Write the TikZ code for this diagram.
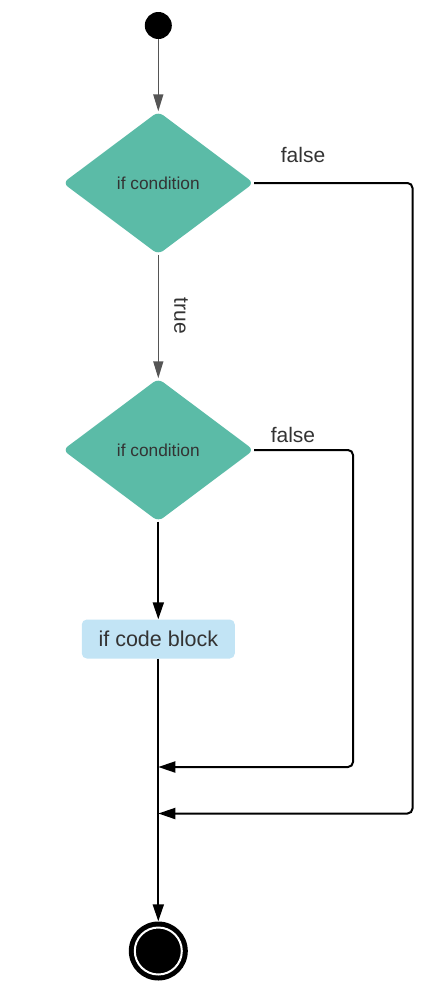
\documentclass[tikz,border=0pt]{standalone}
\usepackage{fontspec}
\setmainfont{Liberation Sans}
\usetikzlibrary{shapes.geometric,arrows.meta}
\definecolor{teal1}{HTML}{5BBBA7}
\definecolor{blue1}{HTML}{C2E4F5}
\definecolor{txt}{HTML}{333333}
\definecolor{greyarr}{HTML}{555555}
\begin{document}
\begin{tikzpicture}[x=1pt,y=-1pt,
  decision/.style={diamond,fill=teal1,rounded corners=6pt,inner sep=0pt,
    minimum width=191pt,minimum height=143pt,text=txt,font=\fontsize{17.3}{19}\selectfont},
  codeblock/.style={rectangle,fill=blue1,rounded corners=5pt,inner sep=0pt,
    minimum width=153pt,minimum height=39pt,text=txt,font=\fontsize{21.5}{24}\selectfont},
  lbl/.style={text=txt,font=\fontsize{21}{24}\selectfont,inner sep=0pt},
  flow/.style={line width=2pt,black,-{Triangle[length=17pt,width=11pt]}},
  gflow/.style={line width=1.4pt,greyarr,-{Triangle[length=17pt,width=10pt]}},
  side/.style={line width=2pt,black,rounded corners=5pt,-{Triangle[length=17pt,width=11pt]}}
]
\useasboundingbox (0,0) rectangle (435,985);
\node[circle,fill=black,minimum size=27pt,inner sep=0pt] (start) at (158.3,25.5) {};
\node[decision] (d1) at (158.3,183) {if condition};
\node[decision] (d2) at (158.3,450) {if condition};
\node[codeblock] (cb) at (158.3,639) {if code block};
\node[circle,fill=black,minimum size=59pt,inner sep=0pt] (end) at (158.3,951) {};
\node[circle,draw=white,line width=2pt,minimum size=47pt,inner sep=0pt] (endring) at (158.3,951) {};
\coordinate (m1) at (158.3,767);
\coordinate (m2) at (158.3,813.5);
\draw[gflow] (start) -- (d1.north);
\draw[gflow] (d1.south) -- (d2.north);
\node[lbl,rotate=-90] (tlab) at (181,316) {true};
\draw[flow] (d2.south) -- (cb.north);
\draw[flow] (cb.south) -- (end.north);
\draw[side] (d2.east) -- (353,450) -- (353,767) -- (m1);
\draw[side] (d1.east) -- (412.5,183) -- (412.5,813.5) -- (m2);
\node[lbl] (f1) at (303,155) {false};
\node[lbl] (f2) at (293,435) {false};
\end{tikzpicture}
\end{document}
